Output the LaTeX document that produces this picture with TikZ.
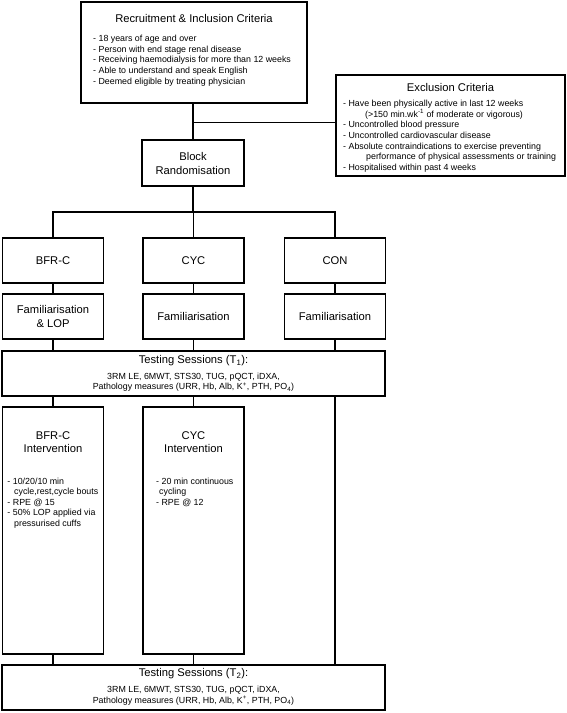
\documentclass[tikz,border=0pt]{standalone}
\usepackage{fontspec}
\setmainfont{Liberation Sans}
\newcommand\flowbig{\fontsize{11.2}{13.4}\selectfont}
\newcommand\flowsmall{\fontsize{8.85}{10.6}\selectfont}
\begin{document}
\begin{tikzpicture}[x=1pt,y=-1pt,
  box/.style={draw, line width=1.6pt, inner sep=0pt, align=center, font=\flowbig},
  colbox/.style={box, minimum width=101pt, minimum height=45pt},
  widebox/.style={box, minimum width=383pt, minimum height=45pt},
  intbox/.style={box, minimum width=101pt, minimum height=247pt},
  ttl/.style={inner sep=0pt, align=center, font=\flowbig},
  det/.style={inner sep=0pt, align=center, font=\fontsize{8.85}{10.7}\selectfont},
  bul/.style={inner sep=0pt, align=left, font=\flowsmall, anchor=north west},
  conn/.style={line width=1.6pt}]
\useasboundingbox (0,0) rectangle (567,713);

% Recruitment
\node[box, minimum width=226pt, minimum height=101pt] (rec) at (194,52.5) {};
\node[ttl] (rect) at (194,18) {Recruitment \& Inclusion Criteria};
\node[bul] (recl) at (93,35) {- 18 years of age and over\\- Person with end stage renal disease\\- Receiving haemodialysis for more than 12 weeks\\- Able to understand and speak English\\- Deemed eligible by treating physician};

% Exclusion
\node[box, minimum width=229pt, minimum height=101pt] (excl) at (450.5,125.5) {};
\node[ttl] (exclt) at (450.5,87.5) {Exclusion Criteria};
\node[bul] (excll) at (343,100) {- Have been physically active in last 12 weeks\\
\hspace*{22pt}(>150 min.wk\textsuperscript{-1} of moderate or vigorous)\\
- Uncontrolled blood pressure\\
- Uncontrolled cardiovascular disease\\
- Absolute contraindications to exercise preventing\\
\hspace*{23pt}performance of physical assessments or training\\
- Hospitalised within past 4 weeks};

% Block randomisation
\node[box, minimum width=102pt, minimum height=46pt, font=\fontsize{11.2}{14}\selectfont] (block) at (193,163) {Block\\Randomisation};

\coordinate (bus) at (0,212);
\coordinate (exin) at ([yshift=3pt]excl.west);

% Groups
\node[colbox] (bfr) at (53,260.5) {BFR-C};
\node[colbox] (cyc) at (193.5,260.5) {CYC};
\node[colbox] (con) at (335,260.5) {CON};

\node[colbox] (fbfr) at (53,316.5) {Familiarisation\\\& LOP};
\node[colbox] (fcyc) at (193.5,316.5) {Familiarisation};
\node[colbox] (fcon) at (335,316.5) {Familiarisation};

% T1
\node[widebox] (t1) at (193.5,373.5) {};
\node[ttl] (t1t) at (193.5,360.5) {Testing Sessions (T\textsubscript{1}):};
\node[det] (t1d) at (193.5,382.3) {3RM LE, 6MWT, STS30, TUG, pQCT, iDXA,\\Pathology measures (URR, Hb, Alb, K\textsuperscript{+}, PTH, PO\textsubscript{4})};

% Interventions
\node[intbox] (ibfr) at (53,530.5) {};
\node[ttl, font=\fontsize{11.2}{12.6}\selectfont] (ibfrt) at (53,442) {BFR-C\\Intervention};
\node[bul] (ibfrl) at (7.3,477.5) {- 10/20/10 min\\\hspace*{6.7pt}cycle,rest,cycle bouts\\- RPE @ 15\\- 50\% LOP applied via\\\hspace*{6.7pt}pressurised cuffs};

\node[intbox] (icyc) at (193.5,530.5) {};
\node[ttl, font=\fontsize{11.2}{12.6}\selectfont] (icyct) at (193.5,442) {CYC\\Intervention};
\node[bul] (icycl) at (156,477.5) {- 20 min continuous\\\hspace*{3pt}cycling\\- RPE @ 12};

% T2
\node[widebox] (t2) at (193.5,687.5) {};
\node[ttl] (t2t) at (193.5,674) {Testing Sessions (T\textsubscript{2}):};
\node[det] (t2d) at (193.5,695.5) {3RM LE, 6MWT, STS30, TUG, pQCT, iDXA,\\Pathology measures (URR, Hb, Alb, K\textsuperscript{+}, PTH, PO\textsubscript{4})};

% Connectors
\draw[conn] (block.north) -- (block.north |- rec.south);
\draw[conn] (exin) -- (exin -| block.north);
\draw[conn] (block.south) -- (block.south |- bus);
\draw[conn] (bfr.north) -- (bfr.north |- bus) -- (con.north |- bus) -- (con.north);
\draw[conn] (cyc.north) -- (cyc.north |- bus);
\draw[conn] (bfr.south) -- (fbfr.north);
\draw[conn] (cyc.south) -- (fcyc.north);
\draw[conn] (con.south) -- (fcon.north);
\draw[conn] (fbfr.south) -- (fbfr.south |- t1.north);
\draw[conn] (fcyc.south) -- (fcyc.south |- t1.north);
\draw[conn] (fcon.south) -- (fcon.south |- t1.north);
\draw[conn] (ibfr.north |- t1.south) -- (ibfr.north);
\draw[conn] (icyc.north |- t1.south) -- (icyc.north);
\draw[conn] (fcon.south |- t1.south) -- (fcon.south |- t2.north);
\draw[conn] (ibfr.south) -- (ibfr.south |- t2.north);
\draw[conn] (icyc.south) -- (icyc.south |- t2.north);
\end{tikzpicture}
\end{document}
